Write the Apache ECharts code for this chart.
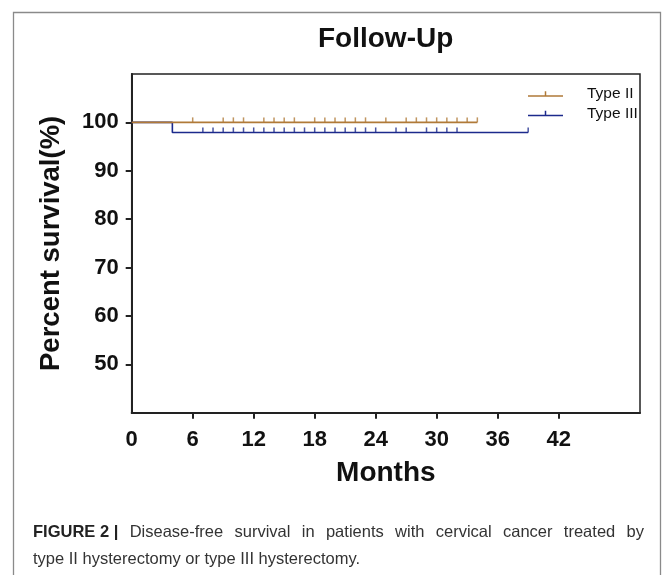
<!DOCTYPE html>
<html>
<head>
<meta charset="utf-8">
<script src="https://cdn.jsdelivr.net/npm/echarts@6/dist/echarts.min.js"></script>
<style>
html,body{margin:0;padding:0;background:#fff;}
#main{width:669px;height:575px;}
</style>
</head>
<body>
<div id="main"></div>
<script>
// ---- data ----
const seriesNames = ['Type II', 'Type III'];
// Kaplan-Meier step curves (months, percent survival)
const typeIICurve = [[0, 100], [34, 100]];
const typeIIICurve = [[0, 100], [4, 100], [4, 97.92], [39, 97.92]];
// censored observations (months)
const typeIICensor = [6, 9, 10, 11, 13, 14, 15, 16, 18, 19, 20, 21, 22, 23, 25, 27, 28, 29, 30, 31, 32, 33, 34];
const typeIIICensor = [7, 8, 9, 10, 11, 12, 13, 14, 15, 16, 17, 18, 19, 20, 21, 22, 23, 24, 26, 27, 29, 30, 31, 32, 39];
const typeIICensorLevel = 100;
const typeIIICensorLevel = 97.92;
// axis tick labels
const xTickLabels = [0, 6, 12, 18, 24, 30, 36, 42];
const xTickMarks = [6, 12, 18, 24, 30, 36, 42];
const yTickLabels = [50, 60, 70, 80, 90, 100];
// caption
const captionBold = 'FIGURE 2 |';
const captionLine1 = 'Disease-free survival in patients with cervical cancer treated by';
const captionLine2 = 'type II hysterectomy or type III hysterectomy.';

const colII = '#B07A38';
const colIII = '#1C2A8C';
const font = '"Liberation Sans", Arial, Helvetica, sans-serif';

// justified first caption line: measure words and spread them across the text width
const capSize = 16.5, capLeft = 33, capRight = 644, capTop1 = 524, capTop2 = 551;
const ctx = document.createElement('canvas').getContext('2d');
const words = [{w: captionBold, bold: true}];
captionLine1.split(' ').forEach(w => words.push({w, bold: false}));
let total = 0;
words.forEach(o => {
  ctx.font = (o.bold ? 'bold ' : '') + capSize + 'px ' + font;
  o.width = ctx.measureText(o.w).width;
  total += o.width;
});
const gap = (capRight - capLeft - total) / (words.length - 1);
const captionGraphics = [];
let cx = capLeft;
words.forEach(o => {
  captionGraphics.push({
    type: 'text', x: cx, y: capTop1, silent: true,
    style: {text: o.w, font: (o.bold ? 'bold ' : '') + capSize + 'px ' + font, fill: o.bold ? '#222' : '#333'}
  });
  cx += o.width + gap;
});
captionGraphics.push({
  type: 'text', x: capLeft, y: capTop2, silent: true,
  style: {text: captionLine2, font: capSize + 'px ' + font, fill: '#333'}
});

const chart = echarts.init(document.getElementById('main'), null, {renderer: 'canvas'});
const iconPath = 'path://M0,4H35V5.5H0Z M16.75,0H18.25V4H16.75Z';

chart.setOption({
  animation: false,
  backgroundColor: '#fff',
  title: {
    text: 'Follow-Up',
    left: 318,
    top: 25,
    padding: 0,
    textStyle: {fontFamily: font, fontWeight: 'bold', fontSize: 28, color: '#111'}
  },
  legend: {
    orient: 'vertical',
    left: 528,
    top: 86,
    padding: 0,
    itemGap: 3.5,
    itemWidth: 35,
    itemHeight: 5.5,
    data: [
      {name: seriesNames[0], icon: iconPath, itemStyle: {color: colII}},
      {name: seriesNames[1], icon: iconPath, itemStyle: {color: colIII}}
    ],
    textStyle: {fontFamily: font, fontSize: 15.5, color: '#111', padding: [0, 0, 0, 19]}
  },
  grid: {
    left: 131.7, top: 74, right: 29, bottom: 162.3,
    show: true, borderColor: '#222', borderWidth: 1.5, backgroundColor: 'transparent'
  },
  xAxis: {
    type: 'value', min: 0, max: 50,
    name: 'Months', nameLocation: 'middle', nameGap: 47,
    nameTextStyle: {fontFamily: font, fontWeight: 'bold', fontSize: 28, color: '#111'},
    axisLine: {show: true, onZero: false, lineStyle: {color: '#222', width: 2}},
    axisTick: {show: true, length: 6, lineStyle: {color: '#222', width: 2}, customValues: xTickMarks},
    axisLabel: {margin: 16, fontFamily: font, fontWeight: 'bold', fontSize: 22, color: '#111', customValues: xTickLabels},
    splitLine: {show: false}
  },
  yAxis: {
    type: 'value', min: 40, max: 110,
    name: 'Percent survival(%)', nameLocation: 'middle', nameGap: 66, nameRotate: 90,
    nameTextStyle: {fontFamily: font, fontWeight: 'bold', fontSize: 27.5, color: '#111'},
    axisLine: {show: true, onZero: false, lineStyle: {color: '#222', width: 2}},
    axisTick: {show: true, length: 6, lineStyle: {color: '#222', width: 2}, customValues: yTickLabels},
    axisLabel: {margin: 13, fontFamily: font, fontWeight: 'bold', fontSize: 22, color: '#111', customValues: yTickLabels},
    splitLine: {show: false}
  },
  series: [
    {
      name: seriesNames[1], type: 'line', data: typeIIICurve, showSymbol: false, z: 2,
      lineStyle: {color: colIII, width: 1.6}, itemStyle: {color: colIII}
    },
    {
      name: seriesNames[1], type: 'scatter', z: 2,
      data: typeIIICensor.map(t => [t, typeIIICensorLevel]),
      symbol: 'rect', symbolSize: [1.5, 5], symbolOffset: [0, '-50%'],
      itemStyle: {color: colIII}
    },
    {
      name: seriesNames[0], type: 'line', data: typeIICurve, showSymbol: false, z: 3,
      lineStyle: {color: colII, width: 1.6}, itemStyle: {color: colII}
    },
    {
      name: seriesNames[0], type: 'scatter', z: 3,
      data: typeIICensor.map(t => [t, typeIICensorLevel]),
      symbol: 'rect', symbolSize: [1.5, 5], symbolOffset: [0, '-50%'],
      itemStyle: {color: colII}
    }
  ],
  graphic: [
    {
      type: 'rect', left: 11, top: 10, silent: true,
      shape: {width: 647, height: 620},
      style: {fill: 'none', stroke: '#8a8a8a', lineWidth: 1.3}
    }
  ].concat(captionGraphics)
});
</script>
</body>
</html>
